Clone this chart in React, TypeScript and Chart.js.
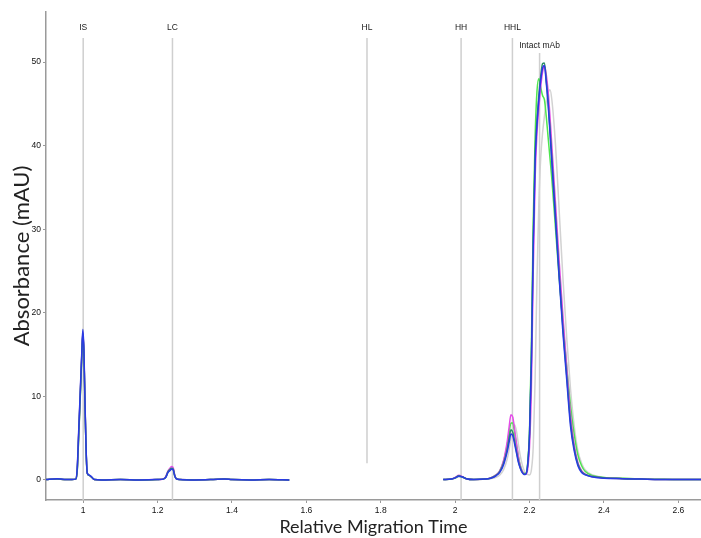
import React, { useEffect, useRef } from 'react';
import { Chart, registerables } from 'chart.js';
Chart.register(...registerables);

// ---- tick labels ----
const xTicks = [1, 1.2, 1.4, 1.6, 1.8, 2, 2.2, 2.4, 2.6];
const yTicks = [0, 10, 20, 30, 40, 50];

// ---- marker lines ----
const markerNames = ['IS', 'LC', 'HL', 'HH', 'HHL', 'Intact mAb'];
const markerPos = [1.0, 1.24, 1.763, 2.016, 2.154, 2.227];
const markerTop = [52.9, 52.9, 52.9, 52.9, 52.9, 51.1];
const markerBottom = [-2.4, -2.4, 2.0, -2.4, -2.4, -2.4];
const markerLabelY = [54.1, 54.1, 54.1, 54.1, 54.1, 52.0];

// ---- segment 1 (0.9 – 1.55) ----
const x1 = [0.9, 0.93, 0.95, 0.97, 0.98, 0.984, 0.988, 0.992, 0.996, 0.999, 1.002, 1.005, 1.008, 1.011, 1.016, 1.022, 1.03, 1.05, 1.1, 1.15, 1.2, 1.215, 1.222, 1.228, 1.234, 1.238, 1.242, 1.246, 1.25, 1.26, 1.3, 1.35, 1.38, 1.4, 1.45, 1.5, 1.554];
const blue1 = [0.05, 0.15, 0.05, 0.05, 0.1, 1.5, 6, 10.5, 15, 18, 15.5, 9, 3.5, 0.8, 0.6, 0.4, 0.05, 0, 0.05, 0, 0.05, 0.1, 0.3, 0.9, 1.15, 1.3, 1.2, 0.5, 0.15, 0.05, 0, 0.05, 0.1, 0.05, 0, 0.05, 0];
const magenta1 = [0.05, 0.12, 0.05, 0.05, 0.1, 1.3, 5.7, 10.2, 14.8, 17.7, 15.2, 8.8, 3.3, 0.8, 0.55, 0.35, 0.05, 0, 0.05, 0, 0.05, 0.12, 0.4, 1.1, 1.45, 1.6, 1.45, 0.6, 0.15, 0.05, 0, 0.05, 0.1, 0.05, 0, 0.05, 0];
const teal1 = [0.05, 0.12, 0.05, 0.05, 0.1, 1.2, 5.5, 10, 14.6, 17.6, 15, 8.6, 3.2, 0.8, 0.55, 0.35, 0.05, 0, 0.05, 0, 0.05, 0.1, 0.35, 1.0, 1.3, 1.4, 1.3, 0.55, 0.15, 0.05, 0, 0.05, 0.1, 0.05, 0, 0.05, 0];
const green1 = [0.05, 0.12, 0.05, 0.05, 0.1, 1.1, 5.3, 9.8, 14.4, 17.4, 14.9, 8.5, 3.2, 0.8, 0.55, 0.35, 0.05, 0, 0.05, 0, 0.05, 0.1, 0.35, 0.95, 1.25, 1.35, 1.25, 0.5, 0.15, 0.05, 0, 0.05, 0.1, 0.05, 0, 0.05, 0];
const gray1 = [0.05, 0.1, 0.05, 0.05, 0.1, 1.0, 5.0, 9.5, 14, 17.2, 15, 8.8, 3.5, 0.9, 0.55, 0.35, 0.05, 0, 0.05, 0, 0.05, 0.1, 0.3, 0.9, 1.25, 1.4, 1.35, 0.6, 0.2, 0.05, 0, 0.05, 0.1, 0.05, 0, 0.05, 0];

// ---- segment 2 (1.97 – 2.66) ----
const x2 = [1.968, 1.99, 2.0, 2.01, 2.02, 2.03, 2.05, 2.08, 2.095, 2.11, 2.12, 2.13, 2.14, 2.145, 2.15, 2.155, 2.16, 2.165, 2.17, 2.175, 2.18, 2.185, 2.19, 2.195, 2.2, 2.205, 2.21, 2.215, 2.22, 2.225, 2.23, 2.235, 2.24, 2.245, 2.25, 2.255, 2.26, 2.27, 2.28, 2.29, 2.3, 2.31, 2.32, 2.33, 2.34, 2.35, 2.37, 2.4, 2.45, 2.5, 2.55, 2.6, 2.661];
const blue2 = [0.05, 0.1, 0.25, 0.45, 0.35, 0.15, 0.05, 0.1, 0.2, 0.5, 0.9, 1.8, 3.4, 4.5, 5.5, 5.3, 4.3, 3.2, 2.1, 1.4, 0.9, 0.65, 0.7, 1.8, 5.5, 14, 28, 38, 42.5, 45.5, 47.8, 49.3, 49.6, 47.5, 45, 41.5, 38, 31, 24, 17.5, 12, 6.5, 3.5, 1.7, 0.9, 0.6, 0.35, 0.2, 0.15, 0.1, 0.05, 0.05, 0.05];
const magenta2 = [0.05, 0.1, 0.3, 0.55, 0.4, 0.15, 0.05, 0.1, 0.25, 0.6, 1.1, 2.3, 4.6, 6.3, 7.8, 7.5, 6.0, 4.3, 2.8, 1.7, 1.05, 0.75, 0.7, 1.3, 4, 11, 25, 36, 41.5, 44.5, 47, 48.8, 49.6, 48.5, 46.5, 43.5, 40, 33, 26, 19.5, 13.5, 8, 4.3, 2.1, 1.1, 0.7, 0.4, 0.25, 0.15, 0.1, 0.05, 0.05, 0.05];
const teal2 = [0.05, 0.1, 0.25, 0.5, 0.35, 0.15, 0.05, 0.1, 0.2, 0.55, 1.0, 2.0, 3.7, 5.0, 6.0, 5.7, 4.6, 3.4, 2.3, 1.5, 0.95, 0.7, 0.7, 1.8, 5.5, 14.5, 29, 39, 43, 46, 48.3, 49.8, 49.9, 47.8, 45.2, 42, 38.5, 31.5, 24.5, 18, 12.5, 7, 3.8, 1.9, 1.0, 0.65, 0.4, 0.25, 0.15, 0.1, 0.05, 0.05, 0.05];
const green2 = [0.05, 0.1, 0.25, 0.45, 0.35, 0.15, 0.05, 0.1, 0.25, 0.6, 1.1, 2.2, 4.2, 5.6, 6.8, 6.8, 5.6, 4.2, 2.8, 1.8, 1.1, 0.8, 0.8, 2.0, 6, 16, 31, 41, 46.5, 48, 47, 46, 45.5, 43.5, 41, 38.5, 36, 30, 24, 18.5, 13.5, 9, 5.5, 3, 1.7, 1.0, 0.5, 0.3, 0.2, 0.12, 0.08, 0.05, 0.05];
const gray2 = [0.05, 0.1, 0.2, 0.4, 0.3, 0.15, 0.05, 0.1, 0.15, 0.3, 0.6, 1.2, 2.5, 3.6, 5.0, 6.2, 6.6, 5.8, 4.3, 2.9, 1.9, 1.2, 0.8, 0.65, 0.6, 1.2, 4, 12, 24, 33, 38.5, 41.5, 43.5, 45.3, 46.3, 46.7, 45.5, 40, 32, 24, 17, 11, 6.5, 3.5, 2, 1.2, 0.6, 0.3, 0.2, 0.12, 0.08, 0.05, 0.05];

const seriesNames = ['blue', 'teal', 'magenta', 'green', 'gray'];
const seriesColors = ['#2a3ae4', '#2f8f6a', '#e44ce8', '#4fe64f', '#d2d2d2'];
const seg1 = [blue1, teal1, magenta1, green1, gray1];
const seg2 = [blue2, teal2, magenta2, green2, gray2];

function build(a: number[], b: number[]) {
  const pts: { x: number; y: number | null }[] = [];
  x1.forEach((x, i) => pts.push({ x, y: a[i] }));
  pts.push({ x: 1.76, y: null });
  x2.forEach((x, i) => pts.push({ x, y: b[i] }));
  return pts;
}

const labelPlugin = {
  id: 'markerLabels',
  afterDatasetsDraw(chart: any) {
    const { ctx, scales } = chart;
    const xs = scales.x, ys = scales.y;
    ctx.save();
    ctx.font = '8.5px "Liberation Sans", Arial, sans-serif';
    ctx.fillStyle = '#1a1a1a';
    ctx.textAlign = 'center';
    ctx.textBaseline = 'middle';
    markerNames.forEach((n, i) => {
      ctx.fillText(n, xs.getPixelForValue(markerPos[i]), ys.getPixelForValue(markerLabelY[i]));
    });
    ctx.restore();
  },
};

export default function App() {
  const ref = useRef<HTMLCanvasElement>(null);
  useEffect(() => {
    if (!ref.current) return;
    const traces = seriesNames.map((n, i) => ({
      label: n,
      data: build(seg1[i], seg2[i]),
      borderColor: seriesColors[i],
      borderWidth: 1.5,
      pointRadius: 0,
      fill: false,
      spanGaps: false,
      cubicInterpolationMode: 'monotone',
    }));
    const markers = markerNames.map((n, i) => ({
      label: n,
      data: [
        { x: markerPos[i], y: markerBottom[i] },
        { x: markerPos[i], y: markerTop[i] },
      ],
      borderColor: '#cfcfcf',
      borderWidth: 1.5,
      pointRadius: 0,
      tension: 0,
      fill: false,
    }));
    const tickFont = { family: '"Liberation Sans", Arial, sans-serif', size: 8.5 };
    const chart = new Chart(ref.current, {
      type: 'line',
      data: { datasets: [...traces, ...markers] as any },
      options: {
        animation: false,
        responsive: false,
        parsing: true,
        layout: { padding: { top: 12, left: 0, right: 0, bottom: 0 } },
        plugins: { legend: { display: false }, tooltip: { enabled: false } },
        scales: {
          x: {
            type: 'linear',
            min: 0.9,
            max: 2.661,
            afterBuildTicks: (s: any) => { s.ticks = xTicks.map((v) => ({ value: v })); },
            afterFit: (s: any) => { s.height = 38; },
            ticks: {
              callback: (v: any) => String(Math.round(Number(v) * 10) / 10),
              font: tickFont,
              color: '#111',
              padding: 3,
              maxRotation: 0,
              autoSkip: false,
            },
            grid: { display: true, drawOnChartArea: false, drawTicks: true, tickLength: 3, color: '#9a9a9a' },
            border: { display: true, color: '#9a9a9a', width: 1.5 },
            title: {
              display: true,
              text: 'Relative Migration Time',
              font: { family: 'Lato', size: 18 },
              color: '#222',
              padding: { top: 0, bottom: 0 },
            },
          },
          y: {
            type: 'linear',
            min: -2.4,
            max: 56,
            afterBuildTicks: (s: any) => { s.ticks = yTicks.map((v) => ({ value: v })); },
            afterFit: (s: any) => { s.width = 46; },
            ticks: { font: tickFont, color: '#111', padding: 2, autoSkip: false },
            grid: { display: true, drawOnChartArea: false, drawTicks: true, tickLength: 3, color: '#9a9a9a' },
            border: { display: true, color: '#9a9a9a', width: 1.5 },
            title: {
              display: true,
              text: 'Absorbance (mAU)',
              font: { family: 'Lato', size: 22 },
              color: '#222',
              padding: { top: 9, bottom: 0 },
            },
          },
        },
      } as any,
      plugins: [labelPlugin],
    });
    return () => chart.destroy();
  }, []);
  return (
    <div style={{ position: 'absolute', left: 0, top: 0, width: 701, height: 538 }}>
      <canvas ref={ref} width={701} height={538} />
    </div>
  );
}
